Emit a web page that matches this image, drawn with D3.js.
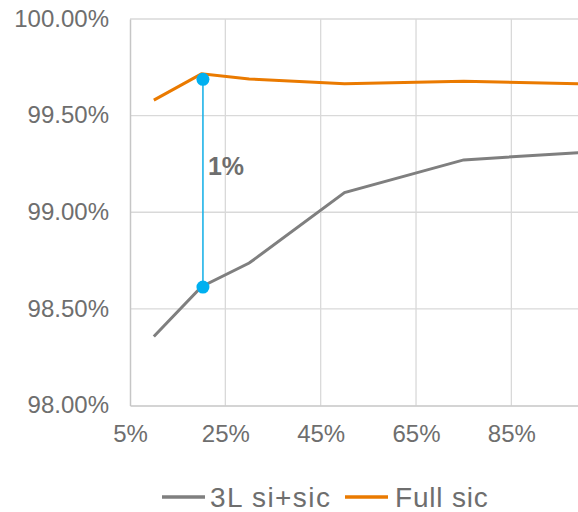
<!DOCTYPE html>
<html><head><meta charset="utf-8">
<script src="https://cdn.jsdelivr.net/npm/d3@7"></script>
<style>html,body{margin:0;padding:0;background:#fff;overflow:hidden}</style>
</head><body>
<script>
const xValues = [10, 20, 30, 50, 75, 100];
const series3L = [98.357, 98.615, 98.737, 99.102, 99.271, 99.31];
const seriesFull = [99.58, 99.716, 99.69, 99.665, 99.678, 99.664];
const seriesNames = ["3L si+sic", "Full sic"];
const xTicks = [5, 25, 45, 65, 85];
const yTicks = [98.0, 98.5, 99.0, 99.5, 100.0];
const annotX = 20.3;
const annotTop = 99.688;
const annotBottom = 98.613;
const annotLabel = "1%";

(function () {
const W = 578, H = 512;
const svg = d3.select("body").append("svg").attr("width", W).attr("height", H)
  .style("font-family", "'Liberation Sans', Arial, sans-serif");

const mLeft = 130, mTop = 19, mBottom = 405.5;
const x = d3.scaleLinear().domain([5, 105]).range([mLeft, mLeft + 100 * 4.767]);
const y = d3.scaleLinear().domain([98, 100]).range([mBottom, mTop]);

const gridColor = "#d9d9d9";
const textColor = "#6e6e6e";

svg.append("g").selectAll("line").data(yTicks.slice(1)).join("line")
  .attr("x1", mLeft).attr("x2", W).attr("y1", d => y(d)).attr("y2", d => y(d))
  .attr("stroke", gridColor).attr("stroke-width", 1.3);
svg.append("g").selectAll("line").data(xTicks.slice(1)).join("line")
  .attr("x1", d => x(d)).attr("x2", d => x(d)).attr("y1", mTop).attr("y2", mBottom)
  .attr("stroke", gridColor).attr("stroke-width", 1.3);

const yAxis = d3.axisLeft(y).tickValues(yTicks).tickSize(0).tickPadding(21)
  .tickFormat(d => d3.format(".2f")(d) + "%");
const gy = svg.append("g").attr("transform", `translate(${mLeft},0)`).call(yAxis);
gy.select(".domain").attr("stroke", "#c6c6c6").attr("stroke-width", 1.5);
gy.selectAll("text").attr("fill", textColor).style("font-size", "24px").attr("dy", "0.3em");

const xAxis = d3.axisBottom(x).tickValues(xTicks).tickSize(0).tickPadding(19)
  .tickFormat(d => d + "%");
const gx = svg.append("g").attr("transform", `translate(0,${mBottom})`).call(xAxis);
gx.select(".domain").attr("stroke", "#c6c6c6").attr("stroke-width", 1.5);
gx.selectAll("text").attr("fill", textColor).style("font-size", "24px");

const line = d3.line().x((d, i) => x(xValues[i])).y(d => y(d));
svg.append("path").datum(series3L).attr("d", line).attr("fill", "none")
  .attr("stroke", "#7f7f7f").attr("stroke-width", 3);
svg.append("path").datum(seriesFull).attr("d", line).attr("fill", "none")
  .attr("stroke", "#ea7a00").attr("stroke-width", 3);

svg.append("line").attr("x1", x(annotX)).attr("x2", x(annotX))
  .attr("y1", y(annotTop)).attr("y2", y(annotBottom))
  .attr("stroke", "#1fb3e8").attr("stroke-width", 1.6);
svg.selectAll("circle.a").data([annotTop, annotBottom]).join("circle")
  .attr("cx", x(annotX)).attr("cy", d => y(d)).attr("r", 6.5).attr("fill", "#00b0f0");
svg.append("text").attr("x", x(annotX) + 5).attr("y", 175)
  .attr("fill", "#6e6e6e").style("font-size", "25px").style("font-weight", "bold")
  .text(annotLabel);

const legend = svg.append("g");
const lg1 = legend.append("g").attr("transform", "translate(162,497)");
lg1.append("line").attr("x1", 0).attr("x2", 43).attr("stroke", "#7f7f7f").attr("stroke-width", 3.5);
lg1.append("text").attr("x", 48).attr("y", 9.5).attr("fill", textColor)
  .style("font-size", "28px").style("letter-spacing", "1.4px").text(seriesNames[0]);
const lg2 = legend.append("g").attr("transform", "translate(345,497)");
lg2.append("line").attr("x1", 0).attr("x2", 43).attr("stroke", "#ea7a00").attr("stroke-width", 3.5);
lg2.append("text").attr("x", 50).attr("y", 9.5).attr("fill", textColor)
  .style("font-size", "28px").style("letter-spacing", "0.8px").text(seriesNames[1]);
})();
</script>
</body></html>
